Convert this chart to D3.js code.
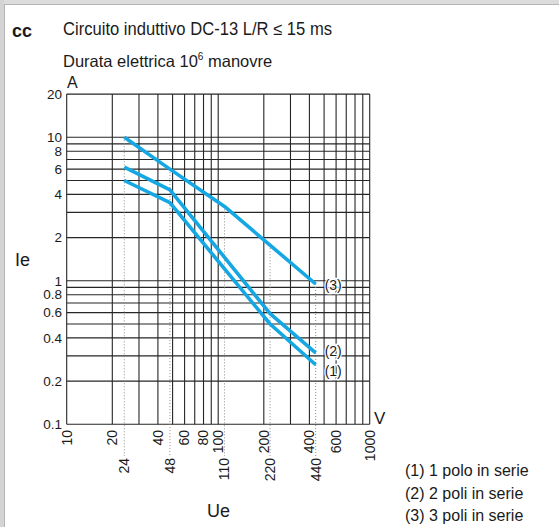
<!DOCTYPE html>
<html>
<head>
<meta charset="utf-8">
<script src="https://cdn.jsdelivr.net/npm/d3@7"></script>
<style>
  body { margin: 0; background: #fff; }
  text { font-family: "Liberation Sans", Arial, sans-serif; fill: #1a1a1a; }
</style>
</head>
<body>
<div id="chart"></div>
<script>
// tick labels
var yTicks = [20, 10, 8, 6, 4, 2, 1, 0.8, 0.6, 0.4, 0.2, 0.1];
var xTicks = [10, 20, 40, 60, 80, 100, 200, 400, 600, 1000];
var xRated = [24, 48, 110, 220, 440];

// curves: rated voltage Ue (V) -> rated current Ie (A)
var ue1 = [24, 48, 220, 440], ie1 = [5.0, 3.5, 0.5, 0.26];
var ue2 = [24, 48, 220, 440], ie2 = [6.2, 4.3, 0.59, 0.315];
var ue3 = [24, 48, 110, 440], ie3 = [10, 6, 3.3, 0.95];
var curveNames = ["(1)", "(2)", "(3)"];
var legendLabels = ["(1) 1 polo in serie", "(2) 2 poli in serie", "(3) 3 poli in serie"];

var width = 559, height = 527;
var blue = "#14a7e3";

var svg = d3.select("#chart")
    .append("svg")
    .attr("width", width)
    .attr("height", height);

// grey frame on top and left
svg.append("rect").attr("x", 0).attr("y", 0).attr("width", width).attr("height", 4).attr("fill", "#dcdcdc");
svg.append("rect").attr("x", 0).attr("y", 0).attr("width", 4).attr("height", height).attr("fill", "#d4d4d4");
svg.append("line").attr("x1", 4).attr("x2", width).attr("y1", 4.5).attr("y2", 4.5).attr("stroke", "#b5b5b5");
svg.append("line").attr("x1", 4.5).attr("x2", 4.5).attr("y1", 4).attr("y2", height).attr("stroke", "#b5b5b5");

// scales (log-log)
var x = d3.scaleLog().domain([10, 1000]).range([66.7, 369.7]);
var y = d3.scaleLog().domain([0.1, 20]).range([424.3, 94.1]);

// grid values: 1..9 per decade
var hGrid = [], vGrid = [];
[0.1, 1].forEach(function(d) {
    for (var k = 1; k < 10; k++) hGrid.push(k * d);
});
hGrid.push(10, 20);
[10, 100].forEach(function(d) {
    for (var k = 1; k < 10; k++) vGrid.push(k * d);
});
vGrid.push(1000);

var grid = svg.append("g").attr("class", "grid");
grid.selectAll(".h").data(hGrid).enter()
    .append("line")
    .attr("x1", x(10)).attr("x2", x(1000))
    .attr("y1", function(d) { return y(d); })
    .attr("y2", function(d) { return y(d); })
    .attr("stroke", "#262626")
    .attr("stroke-width", 1.1);
grid.selectAll(".v").data(vGrid).enter()
    .append("line")
    .attr("y1", y(0.1)).attr("y2", y(20))
    .attr("x1", function(d) { return x(d); })
    .attr("x2", function(d) { return x(d); })
    .attr("stroke", "#262626")
    .attr("stroke-width", 1.1);

// log-log interpolation on curve (3), where the dotted guides start
function topCurve(v) {
    for (var i = 0; i < ue3.length - 1; i++) {
        if (v >= ue3[i] && v <= ue3[i + 1]) {
            var t = (Math.log(v) - Math.log(ue3[i])) / (Math.log(ue3[i + 1]) - Math.log(ue3[i]));
            return Math.exp(Math.log(ie3[i]) + t * (Math.log(ie3[i + 1]) - Math.log(ie3[i])));
        }
    }
    return ie3[ie3.length - 1];
}

svg.selectAll(".guide").data(xRated).enter()
    .append("line")
    .attr("class", "guide")
    .attr("x1", function(d) { return x(d); })
    .attr("x2", function(d) { return x(d); })
    .attr("y1", function(d) { return y(topCurve(d)); })
    .attr("y2", 456)
    .attr("stroke", "#8a8a8a")
    .attr("stroke-width", 1)
    .attr("stroke-dasharray", "1,2");

// curves
var line = d3.line()
    .x(function(d) { return x(d[0]); })
    .y(function(d) { return y(d[1]); });

var curves = [d3.zip(ue1, ie1), d3.zip(ue2, ie2), d3.zip(ue3, ie3)];

svg.selectAll(".curve").data(curves).enter()
    .append("path")
    .attr("class", "curve")
    .attr("d", line)
    .attr("fill", "none")
    .attr("stroke", blue)
    .attr("stroke-width", 3.6)
    .attr("stroke-linejoin", "round");

// curve end labels, white halo so grid lines don't cross them
var nudge = [6, -2, 1];
svg.selectAll(".clabel").data(curves).enter()
    .append("text")
    .attr("x", function(d) { return x(d[d.length - 1][0]) + 9; })
    .attr("y", function(d, i) { return y(d[d.length - 1][1]) + nudge[i]; })
    .attr("dy", "0.35em")
    .style("font-size", "14px")
    .style("stroke", "#fff")
    .style("stroke-width", 2.5)
    .style("paint-order", "stroke")
    .text(function(d, i) { return curveNames[i]; });

// y tick labels
svg.selectAll(".ytick").data(yTicks).enter()
    .append("text")
    .attr("x", 62)
    .attr("y", function(d) { return y(d); })
    .attr("dy", "0.35em")
    .attr("text-anchor", "end")
    .style("font-size", "13.5px")
    .text(function(d) { return d; });

// x tick labels, rotated
svg.selectAll(".xtick").data(xTicks).enter()
    .append("text")
    .attr("transform", function(d) { return "translate(" + x(d) + ",430) rotate(-90)"; })
    .attr("dy", "0.35em")
    .attr("text-anchor", "end")
    .style("font-size", "14px")
    .text(function(d) { return d; });

svg.selectAll(".xrated").data(xRated).enter()
    .append("text")
    .attr("transform", function(d) { return "translate(" + x(d) + ",458) rotate(-90)"; })
    .attr("dy", "0.35em")
    .attr("text-anchor", "end")
    .style("font-size", "14px")
    .text(function(d) { return d; });

// axis units and names
svg.append("text").attr("x", 67).attr("y", 88).style("font-size", "16px").text("A");
svg.append("text").attr("x", 374).attr("y", 424).style("font-size", "17px").text("V");
svg.append("text").attr("x", 15).attr("y", 266).style("font-size", "18px").text("Ie");
svg.append("text").attr("x", 207).attr("y", 517).style("font-size", "18px").text("Ue");

// title
svg.append("text").attr("x", 12).attr("y", 37)
    .style("font-size", "18px").style("font-weight", "bold").text("cc");
svg.append("text").attr("x", 63).attr("y", 35)
    .style("font-size", "17.5px")
    .attr("textLength", 269).attr("lengthAdjust", "spacingAndGlyphs")
    .text("Circuito induttivo DC-13 L/R \u2264 15 ms");
var t2 = svg.append("text").attr("x", 63).attr("y", 67).style("font-size", "16.5px");
t2.append("tspan").text("Durata elettrica 10");
t2.append("tspan").attr("dy", -7).style("font-size", "10px").text("6");
t2.append("tspan").attr("dy", 7).text(" manovre");

// legend
svg.selectAll(".legend").data(legendLabels).enter()
    .append("text")
    .attr("x", 405)
    .attr("y", function(d, i) { return 476 + i * 22.5; })
    .style("font-size", "16px")
    .text(function(d) { return d; });
</script>
</body>
</html>
